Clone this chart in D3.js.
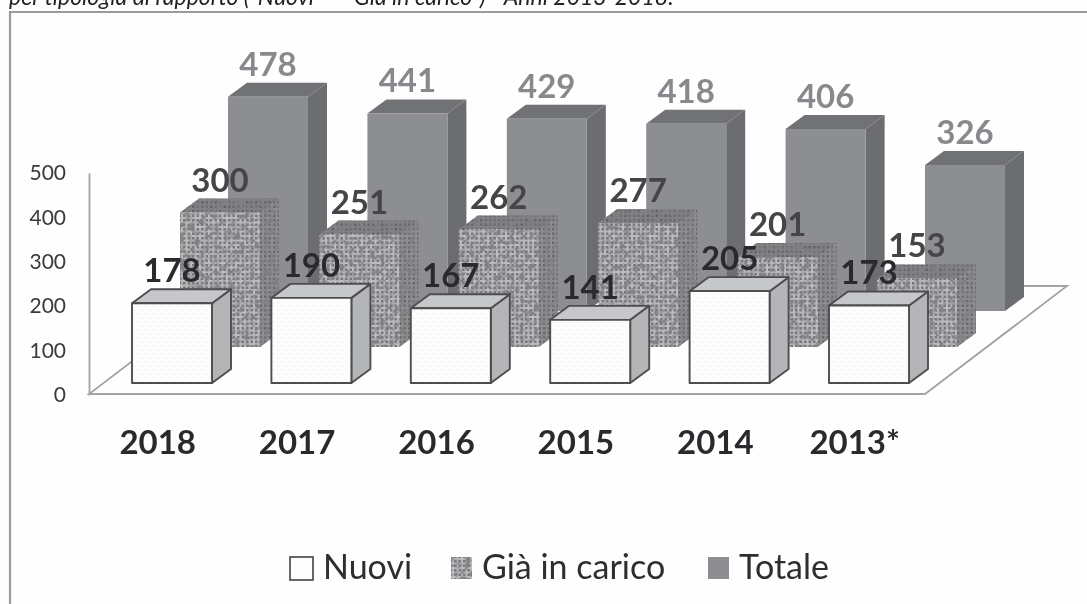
<!DOCTYPE html>
<html>
<head>
<meta charset="utf-8">
<script src="https://cdn.jsdelivr.net/npm/d3@7"></script>
<style>
  html, body { margin: 0; padding: 0; background: #fefefe; }
  svg { display: block; }
  text { font-family: Lato, "Open Sans", sans-serif; }
</style>
</head>
<body>
<script>
// Chart values
var years = ["2018", "2017", "2016", "2015", "2014", "2013*"];
var seriesNames = ["Nuovi", "Già in carico", "Totale"];
var nuovi = [178, 190, 167, 141, 205, 173];
var giaInCarico = [300, 251, 262, 277, 201, 153];
var totale = [478, 441, 429, 418, 406, 326];
var yTicks = [0, 100, 200, 300, 400, 500];
var caption = "per tipologia di rapporto (\"Nuovi\" – \"Già in carico\") - Anni 2013-2018.";

var svgWidth = 1087;
var svgHeight = 604;

// Box depth and how far each row of bars sits behind the previous one
var barWidth = 80;
var depthX = 19;
var depthY = 14;
var rowX = 48;
var rowY = 36;

var svg = d3.select("body")
  .append("svg")
  .attr("width", svgWidth)
  .attr("height", svgHeight);

var defs = svg.append("defs");

// Soft look of the scanned page
defs.append("filter").attr("id", "scan")
  .append("feGaussianBlur").attr("stdDeviation", 0.5);

// Mottled texture of the "Già in carico" bars
var knit = defs.append("filter").attr("id", "knit")
  .attr("x", 0).attr("y", 0).attr("width", 1).attr("height", 1);
knit.append("feTurbulence")
  .attr("type", "fractalNoise").attr("baseFrequency", 0.2)
  .attr("numOctaves", 2).attr("seed", 4).attr("result", "noise");
knit.append("feColorMatrix").attr("in", "noise").attr("type", "matrix")
  .attr("values", "0 0 0 0 0.22  0 0 0 0 0.22  0 0 0 0 0.23  3 0 0 0 -1.15")
  .attr("result", "spots");
knit.append("feComposite").attr("in", "spots").attr("in2", "SourceAlpha")
  .attr("operator", "in").attr("result", "clipped");
var knitMerge = knit.append("feMerge");
knitMerge.append("feMergeNode").attr("in", "SourceGraphic");
knitMerge.append("feMergeNode").attr("in", "clipped");

function addWeave(id, base, line) {
  var p = defs.append("pattern").attr("id", id)
    .attr("width", 9).attr("height", 9)
    .attr("patternUnits", "userSpaceOnUse");
  p.append("rect").attr("width", 9).attr("height", 9).attr("fill", base);
  p.append("path").attr("d", "M0 2H9M0 6.5H9M2 0V9M6.5 0V9")
    .attr("stroke", line).attr("stroke-width", 2).attr("fill", "none");
}
addWeave("weaveFront", "#77787b", "#bcbdbf");
addWeave("weaveSide", "#656669", "#8f9092");
addWeave("weaveTop", "#626366", "#808184");

// Light dots on the "Nuovi" bars
var dots = defs.append("pattern").attr("id", "dots")
  .attr("width", 8).attr("height", 8)
  .attr("patternUnits", "userSpaceOnUse");
dots.append("rect").attr("width", 8).attr("height", 8).attr("fill", "#fdfdfd");
dots.append("circle").attr("cx", 2).attr("cy", 2).attr("r", 0.6).attr("fill", "#d4d4d6");
dots.append("circle").attr("cx", 6).attr("cy", 6).attr("r", 0.6).attr("fill", "#d4d4d6");

// Looks for each series, in the order of seriesNames
var seriesStyle = [
  { values: nuovi, front: "url(#dots)", top: "#c6c7c9", side: "#b4b5b7",
    stroke: "#4e4e51", label: "#2b2b2d", filter: null },
  { values: giaInCarico, front: "url(#weaveFront)", top: "url(#weaveTop)", side: "url(#weaveSide)",
    stroke: "none", label: "#454547", filter: "url(#knit)" },
  { values: totale, front: "#8d8e91", top: "#717275", side: "#6c6d70",
    stroke: "none", label: "#88898c", filter: null }
];

var chart = svg.append("g").attr("filter", "url(#scan)");

// Caption cut by the top of the picture, as in the source page
chart.append("text")
  .attr("x", 9)
  .attr("y", 5)
  .attr("font-size", 23)
  .attr("font-style", "italic")
  .attr("fill", "#222")
  .text(caption);

// Frame, open on the right and at the bottom
chart.append("path")
  .attr("d", "M10 604V12H1087")
  .attr("fill", "none")
  .attr("stroke", "#9b9b9f")
  .attr("stroke-width", 2.2);

// Scales
var xScale = d3.scaleBand()
  .domain(years)
  .range([88, 924.4]);

var yScale = d3.scaleLinear()
  .domain([0, 500])
  .range([394, 172]);

// Height of a value on the bars, slightly larger than on the drawn axis
var heightScale = d3.scaleLinear()
  .domain([0, 500])
  .range([0, 224]);

var rowScale = d3.scalePoint()
  .domain(seriesNames)
  .range([0, 2]);

// Floor of the chart
var drawLine = d3.line();
chart.append("path")
  .attr("d", drawLine([[89, 394], [925, 394], [1067, 286], [231, 286]]) + "Z")
  .attr("fill", "#fefefe")
  .attr("stroke", "#a3a3a6")
  .attr("stroke-width", 1.8);

// Left axis, the vertical line is the axis domain
var leftAxis = d3.axisLeft(yScale)
  .tickValues(yTicks)
  .tickSize(0)
  .tickPadding(23);
var yAxisGroup = chart.append("g")
  .attr("transform", "translate(89, 1)")
  .call(leftAxis);
yAxisGroup.select(".domain").attr("stroke", "#a3a3a6").attr("stroke-width", 1.8);
yAxisGroup.selectAll("text")
  .attr("font-size", 21)
  .attr("fill", "#3a3a3c")
  .style("font-family", "Lato, 'Open Sans', sans-serif");

// Bottom axis with the years
var bottomAxis = d3.axisBottom(xScale).tickSize(0).tickPadding(0);
var xAxisGroup = chart.append("g")
  .attr("transform", "translate(0, 431)")
  .call(bottomAxis);
xAxisGroup.select(".domain").remove();
xAxisGroup.selectAll("text")
  .attr("font-size", 33)
  .attr("font-weight", 700)
  .attr("fill", "#2b2b2d")
  .style("font-family", "Lato, 'Open Sans', sans-serif");

// Front left corner of the box of one value
function barLeft(year, name) {
  return xScale(year) + 44 + rowScale(name) * rowX;
}
function barBase(name) {
  return 383 - rowScale(name) * rowY;
}

// Rows are painted from the back to the front
var labelRows = [];
d3.range(seriesNames.length - 1, -1, -1).forEach(function(s) {
  var name = seriesNames[s];
  var style = seriesStyle[s];
  var row = chart.append("g").attr("class", "row");

  var bars = row.selectAll("g")
    .data(years.map(function(year, i) {
      return { year: year, value: style.values[i] };
    }))
    .join("g")
    .attr("stroke", style.stroke)
    .attr("stroke-width", style.stroke === "none" ? 0 : 1.9)
    .attr("stroke-linejoin", "round");

  function face(d, kind) {
    var x0 = barLeft(d.year, name);
    var x1 = x0 + barWidth;
    var y0 = barBase(name);
    var y1 = y0 - heightScale(d.value);
    if (kind === "front") return [[x0, y0], [x1, y0], [x1, y1], [x0, y1]];
    if (kind === "side") return [[x1, y0], [x1 + depthX, y0 - depthY], [x1 + depthX, y1 - depthY], [x1, y1]];
    return [[x0, y1], [x1, y1], [x1 + depthX, y1 - depthY], [x0 + depthX, y1 - depthY]];
  }

  ["side", "top", "front"].forEach(function(kind) {
    bars.append("path")
      .attr("d", function(d) { return drawLine(face(d, kind)) + "Z"; })
      .attr("fill", style[kind])
      .attr("filter", style.filter);
  });

  labelRows.push({ name: name, style: style });
});

// Value labels stay above every bar
labelRows.forEach(function(r) {
  chart.append("g").selectAll("text")
    .data(years.map(function(year, i) {
      return { year: year, value: r.style.values[i] };
    }))
    .join("text")
    .attr("x", function(d) { return barLeft(d.year, r.name) + barWidth / 2; })
    .attr("y", function(d) { return barBase(r.name) - heightScale(d.value) - depthY - 7; })
    .attr("text-anchor", "middle")
    .attr("font-size", 33)
    .attr("font-weight", 700)
    .attr("fill", r.style.label)
    .text(function(d) { return d.value; });
});

// Legend
var legendX = d3.scaleOrdinal()
  .domain(seriesNames)
  .range([290, 451, 708]);

var legend = chart.append("g").selectAll("g")
  .data(seriesNames)
  .join("g")
  .attr("transform", function(d) { return "translate(" + legendX(d) + ", 557)"; });

legend.append("rect")
  .attr("width", function(d, i) { return i === 0 ? 23 : 21; })
  .attr("height", function(d, i) { return i === 0 ? 23 : 22; })
  .attr("fill", function(d, i) { return i === 0 ? "#fdfdfd" : seriesStyle[i].front; })
  .attr("stroke", function(d, i) { return i === 0 ? "#4e4e51" : "none"; })
  .attr("stroke-width", 1.7)
  .attr("filter", function(d, i) { return seriesStyle[i].filter; });

legend.append("text")
  .attr("x", function(d, i) { return i === 0 ? 33 : 31; })
  .attr("y", 22)
  .attr("font-size", 34)
  .attr("fill", "#2e2e30")
  .text(function(d) { return d; });
</script>
</body>
</html>
